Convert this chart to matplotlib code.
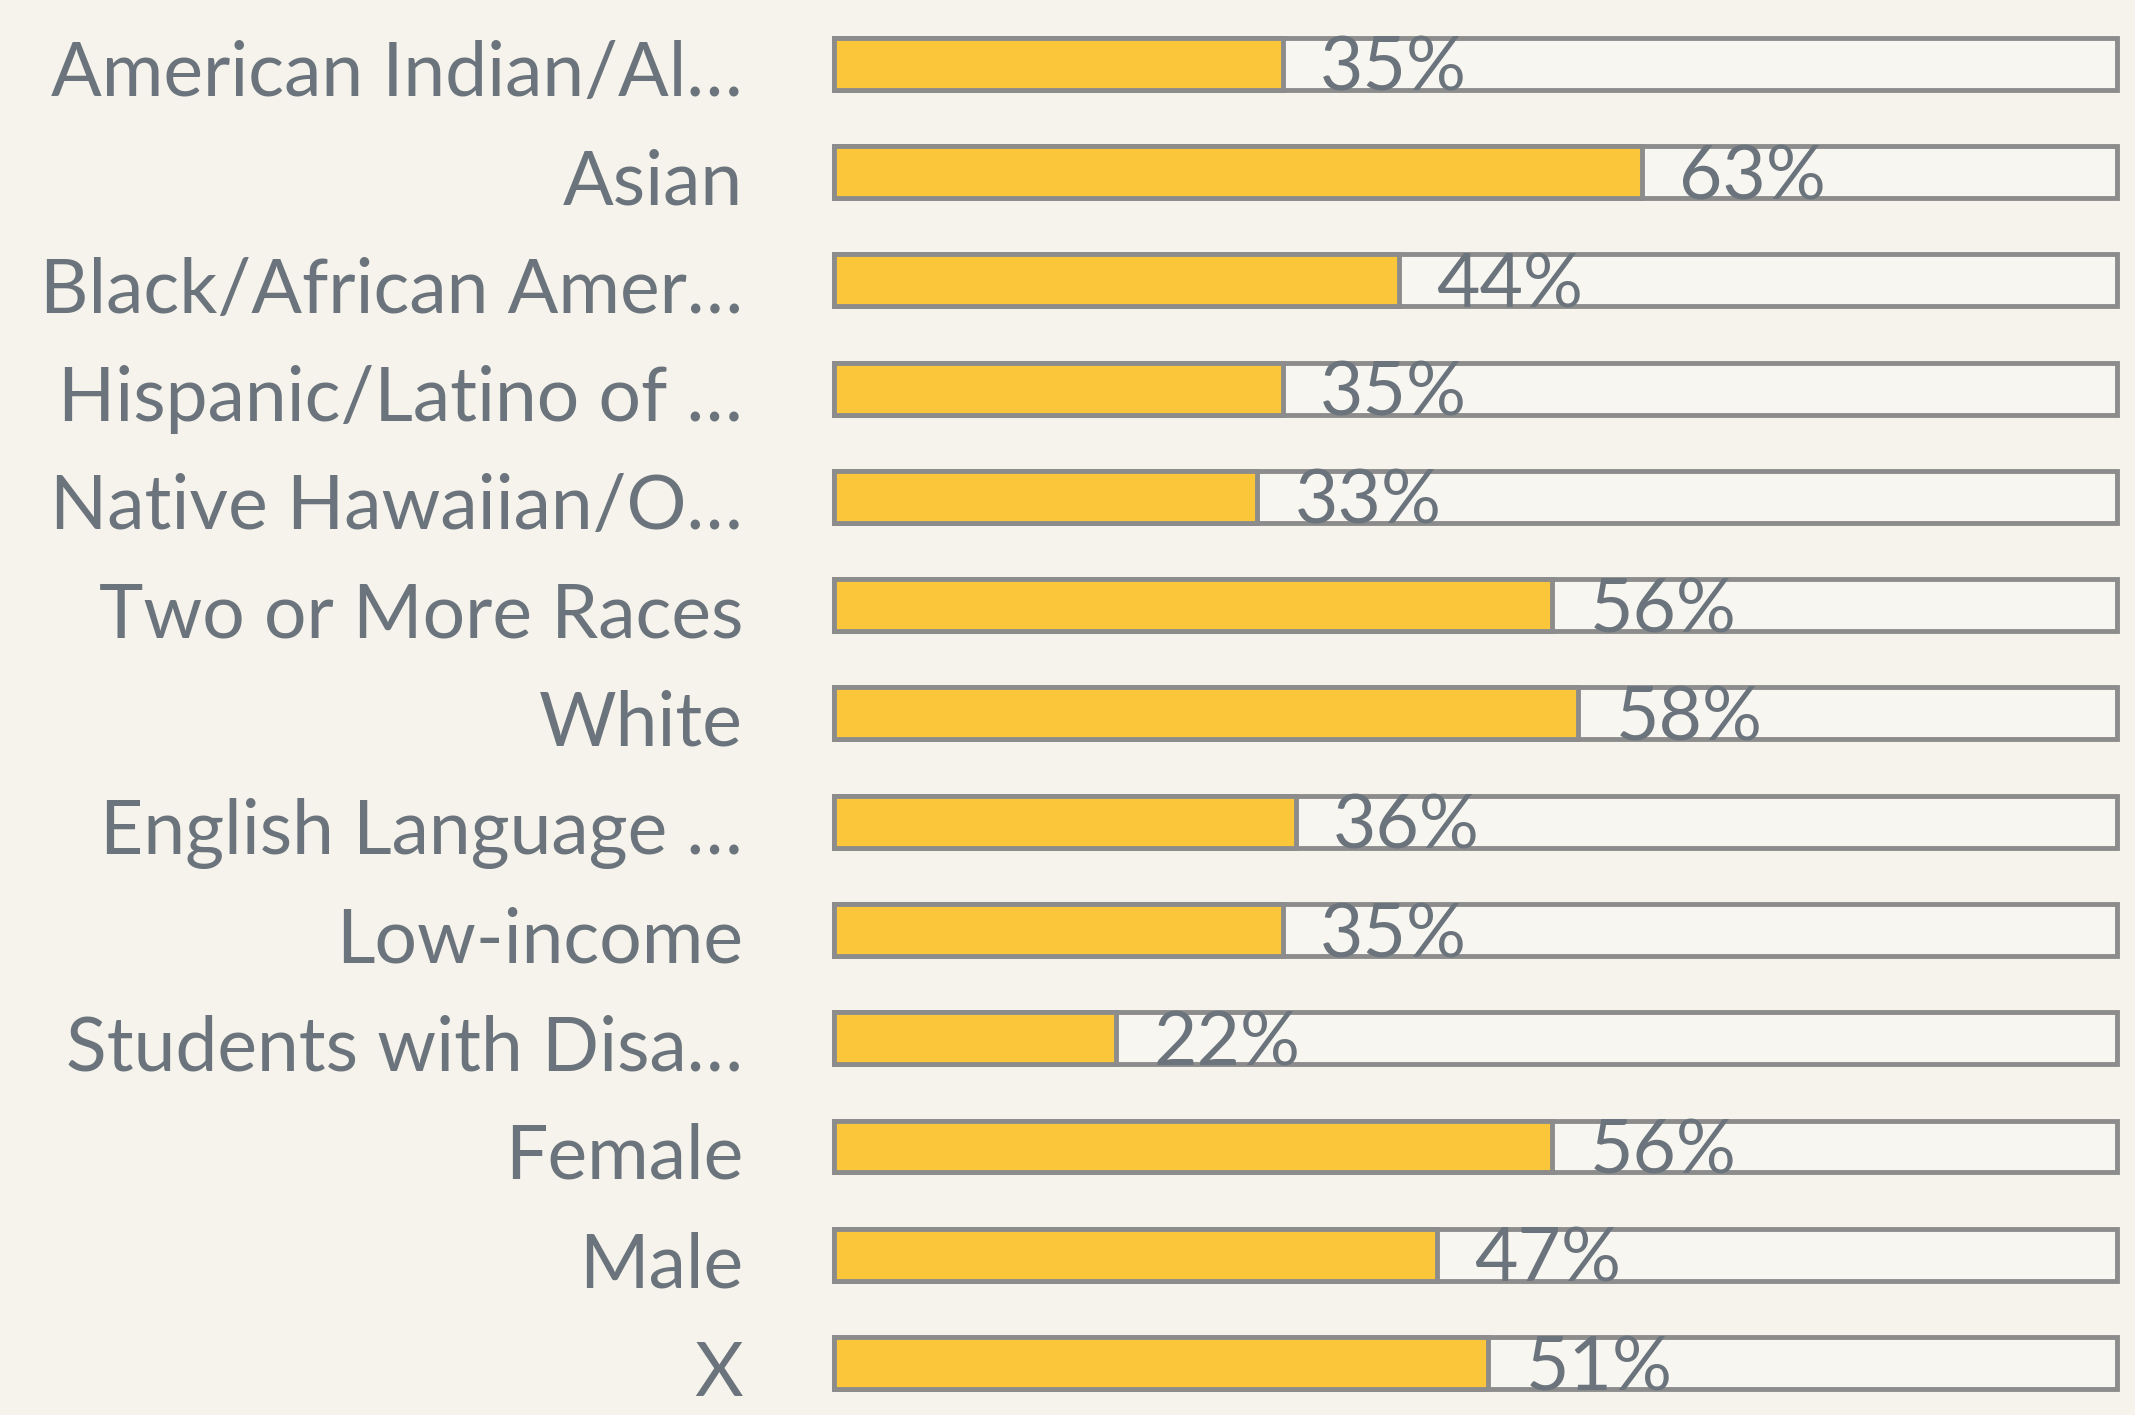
import matplotlib
matplotlib.use("Agg")
import matplotlib.pyplot as plt

# Data
groups = [
    "American Indian/Al\u2026",
    "Asian",
    "Black/African Amer\u2026",
    "Hispanic/Latino of \u2026",
    "Native Hawaiian/O\u2026",
    "Two or More Races",
    "White",
    "English Language \u2026",
    "Low-income",
    "Students with Disa\u2026",
    "Female",
    "Male",
    "X",
]
pct = [35, 63, 44, 35, 33, 56, 58, 36, 35, 22, 56, 47, 51]

# Colours
bg = "#f5f3eb"
track = "#f8f6f0"
yellow = "#fbc63a"
edge = "#8c8c8c"
text_col = "#6b747c"

plt.rcParams['font.family'] = ['Lato', 'DejaVu Sans']

W, H = 2135, 1415
fig = plt.figure(figsize=(W / 100, H / 100), dpi=100, facecolor=bg)
ax = fig.add_axes([834 / W, 0, 1283 / W, 1])
ax.set_facecolor(bg)

rows = list(range(len(groups)))
frac = [p / 100 for p in pct]

ax.barh(rows, [1] * len(rows), height=0.48, color=track, edgecolor=edge,
        linewidth=3.5, clip_on=False, zorder=1)
ax.barh(rows, frac, height=0.48, color=yellow, edgecolor=edge,
        linewidth=3.5, clip_on=False, zorder=2)

for r, name, f, p in zip(rows, groups, frac, pct):
    ax.text(-0.071, r + 0.3, name, ha="right", va="baseline",
            fontsize=54, color=text_col, zorder=3)
    ax.text(f + 0.029, r + 0.25, f"{p}%", ha="left", va="baseline",
            fontsize=54, color=text_col, zorder=3)

ax.set_xlim(0, 1)
ax.set_ylim(12.48, -0.59)
ax.axis("off")

fig.savefig("out.png", dpi=100, facecolor=bg)
